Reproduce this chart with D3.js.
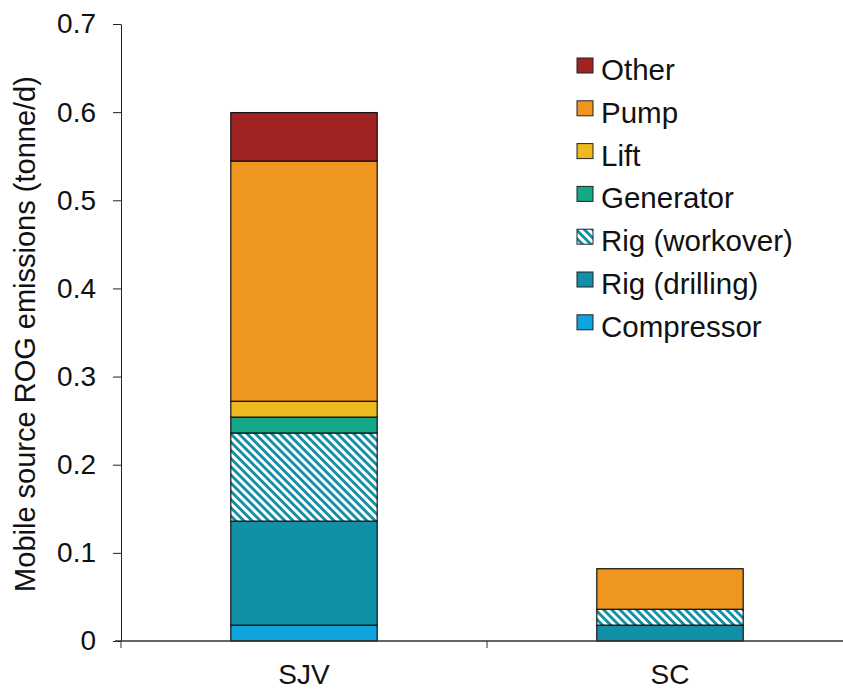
<!DOCTYPE html>
<html><head><meta charset="utf-8">
<script src="https://cdn.jsdelivr.net/npm/d3@7"></script>
<style>body{margin:0;background:#fff;} text{font-family:"Liberation Sans",Arial,sans-serif;}</style>
</head><body>
<svg id="c" width="843" height="690"></svg>
<script>
const categories = ["SJV", "SC"];
const seriesNames = ["Compressor", "Rig (drilling)", "Rig (workover)", "Generator", "Lift", "Pump", "Other"];
const compressor = [0.018, 0.0];
const rigDrilling = [0.118, 0.018];
const rigWorkover = [0.100, 0.018];
const generator = [0.018, 0.0];
const lift = [0.018, 0.0];
const pump = [0.2725, 0.046];
const other = [0.055, 0.0];
const yTicks = [0, 0.1, 0.2, 0.3, 0.4, 0.5, 0.6, 0.7];
const colors = ["#0EA5DE", "#1290A5", "url(#hatch)", "#13A887", "#EDB91F", "#EE961F", "#9E2322"];

const seriesValues = [compressor, rigDrilling, rigWorkover, generator, lift, pump, other];
const rows = categories.map((c, i) => {
  const r = {cat: c};
  seriesNames.forEach((s, j) => r[s] = seriesValues[j][i]);
  return r;
});
const stacked = d3.stack().keys(seriesNames)(rows);

const svg = d3.select("#c");
const defs = svg.append("defs");
const pat = defs.append("pattern").attr("id", "hatch").attr("patternUnits", "userSpaceOnUse")
  .attr("width", 5.8).attr("height", 10).attr("patternTransform", "rotate(-45)");
pat.append("rect").attr("width", 5.8).attr("height", 10).attr("fill", "#fff");
pat.append("rect").attr("x", 0).attr("width", 2.9).attr("height", 10).attr("fill", "#1390A6");

const mLeft = 121, mRight = 853, mTop = 24, mBottom = 641;
const x = d3.scaleBand().domain(categories).range([mLeft, mRight]).paddingInner(0).paddingOuter(0);
const y = d3.scaleLinear().domain([0, 0.7]).range([mBottom, mTop]);
const bw = x.bandwidth() * 0.4;

const g = svg.append("g");
stacked.forEach((layer, j) => {
  g.selectAll(null).data(layer.filter(d => d[1] - d[0] > 0)).enter().append("rect")
    .attr("x", d => x(d.data.cat) + (x.bandwidth() - bw) / 2)
    .attr("width", bw)
    .attr("y", d => y(d[1]))
    .attr("height", d => y(d[0]) - y(d[1]))
    .attr("fill", colors[j])
    .attr("stroke", "#111").attr("stroke-width", 1.2);
});

// y axis
const ya = svg.append("g").attr("transform", `translate(${mLeft},0)`)
  .call(d3.axisLeft(y).tickValues(yTicks).tickFormat(d => d === 0 ? "0" : d3.format(".1f")(d)).tickSize(8).tickPadding(17).tickSizeOuter(0));
ya.selectAll("text").attr("font-size", 28).attr("fill", "#111");
ya.selectAll("line, path").attr("stroke", "#222");

// x axis
const xa = svg.append("g").attr("transform", `translate(0,${mBottom})`);
xa.append("line").attr("x1", mLeft - 6).attr("x2", 843).attr("y1", 0).attr("y2", 0).attr("stroke", "#333").attr("stroke-width", 1.5);
xa.selectAll(null).data(categories).enter().append("line")
  .attr("x1", d => x(d)).attr("x2", d => x(d)).attr("y1", 0).attr("y2", 7).attr("stroke", "#333");
xa.selectAll(null).data(categories).enter().append("text")
  .attr("x", d => x(d) + x.bandwidth() / 2).attr("y", 43)
  .attr("text-anchor", "middle").attr("font-size", 28).attr("fill", "#111").text(d => d);

// y title
svg.append("text").attr("transform", "translate(35,334) rotate(-90)")
  .attr("text-anchor", "middle").attr("font-size", 29).attr("fill", "#111")
  .text("Mobile source ROG emissions (tonne/d)");

// legend
const legendOrder = seriesNames.map((s, i) => i).reverse();
const lg = svg.append("g");
legendOrder.forEach((j, k) => {
  const base = 80 + k * 42.8;
  lg.append("rect").attr("x", 577).attr("y", base - 22).attr("width", 16).attr("height", 15)
    .attr("fill", colors[j]).attr("stroke", "#222").attr("stroke-width", 1);
  lg.append("text").attr("x", 601).attr("y", base).attr("font-size", 29.5).attr("fill", "#111").text(seriesNames[j]);
});
</script>
</body></html>
